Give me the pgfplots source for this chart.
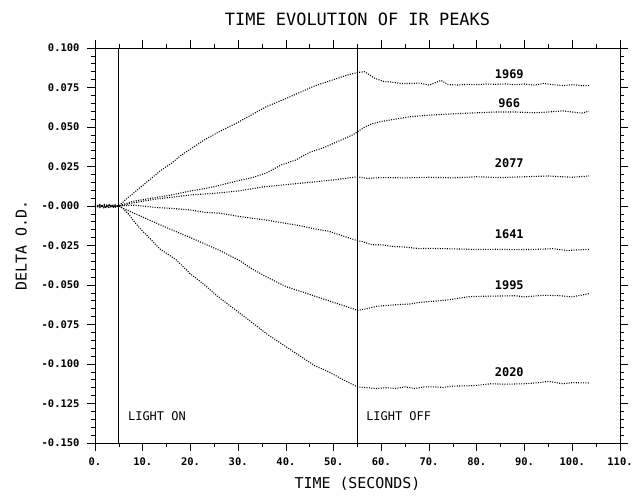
\documentclass[border=0pt]{standalone}
\usepackage{fontspec}
\setmainfont{DejaVu Sans Mono}
\usepackage{pgfplots}
\pgfplotsset{compat=1.18}
\usetikzlibrary{calc}
\begin{document}
\begin{tikzpicture}
\begin{axis}[
  scale only axis,
  width=525bp, height=395bp,
  xmin=0, xmax=110, ymin=-0.15, ymax=0.1,
  xtick={0,10,20,30,40,50,60,70,80,90,100,110},
  xticklabels={0.,10.,20.,30.,40.,50.,60.,70.,80.,90.,100.,110.},
  ytick={-0.15,-0.125,-0.1,-0.075,-0.05,-0.025,0,0.025,0.05,0.075,0.1},
  yticklabels={-0.150,-0.125,-0.100,-0.075,-0.050,-0.025,-0.000,0.025,0.050,0.075,0.100},
  minor x tick num=1, minor y tick num=4,
  tick align=outside,
  major tick length=8bp, minor tick length=4bp,
  tick style={black, line width=0.7pt},
  axis line style={line width=0.8pt},
  ticklabel style={font=\fontsize{10.5}{12}\selectfont\bfseries},
  xticklabel style={yshift=-3bp},
  yticklabel style={xshift=-4bp},
  title={TIME EVOLUTION OF IR PEAKS},
  title style={at={(0.5,1)}, anchor=south, inner sep=0pt, yshift=16bp, font=\fontsize{17}{20}\selectfont},
  xlabel={TIME (SECONDS)},
  xlabel style={at={(0.5,0)}, anchor=north, inner sep=0pt, yshift=-34bp, font=\fontsize{15}{18}\selectfont},
  ylabel={DELTA O.D.},
  ylabel style={font=\fontsize{15}{18}\selectfont, yshift=8bp},
  pk/.style={black, no markers, line width=1.1pt, dash pattern=on 1pt off 1.4pt},
]
% 1969
\addplot[pk] coordinates {(0,0.000) (1,-0.001) (2,0.0005) (3,-0.001) (4,0.0005) (5,0.000) (6.4,0.004) (8,0.008) (10,0.013) (12,0.018) (14,0.023) (16,0.027) (18,0.032) (20,0.036) (23,0.042) (26,0.047) (30,0.053) (33,0.058) (36,0.063) (40,0.068) (43,0.072) (46,0.076) (50,0.080) (53,0.083) (55,0.0845) (56.5,0.085) (58.5,0.081) (60.5,0.0788) (62,0.0785) (64,0.0775) (66,0.0775) (68,0.0778) (70,0.0765) (72.5,0.0795) (74,0.0768) (76,0.0766) (78,0.077) (80,0.0768) (82,0.0772) (84,0.077) (86,0.0772) (88,0.0768) (90,0.0772) (92,0.0765) (94,0.0775) (96,0.0768) (98,0.0762) (100,0.0768) (102,0.0762) (103.5,0.0762)};
% 966
\addplot[pk] coordinates {(0,0.000) (1,0.0005) (2,-0.0005) (3,0.001) (4,-0.0005) (5,0.000) (8,0.003) (10,0.004) (13,0.0055) (16,0.007) (20,0.0095) (23,0.011) (26,0.013) (30,0.016) (33,0.018) (36,0.021) (39,0.026) (42,0.029) (45,0.034) (48,0.037) (51,0.041) (54,0.045) (55,0.047) (56.5,0.050) (58,0.052) (60,0.0535) (62,0.0545) (64,0.0555) (66,0.0565) (68,0.057) (70,0.0575) (73,0.058) (76,0.0585) (80,0.059) (84,0.0595) (88,0.0595) (92,0.059) (95,0.0595) (98,0.0602) (100,0.0595) (102,0.0588) (103.5,0.060)};
% 2077
\addplot[pk] coordinates {(0,0.0005) (1,-0.0005) (2,0.001) (3,0.000) (4,-0.001) (5,0.000) (8,0.002) (10,0.003) (13,0.0045) (16,0.0055) (20,0.007) (25,0.008) (30,0.0095) (35,0.012) (40,0.0135) (45,0.015) (50,0.0165) (55,0.0185) (57,0.0175) (60,0.018) (65,0.0178) (70,0.0182) (75,0.0178) (80,0.0185) (85,0.018) (90,0.0185) (95,0.019) (100,0.0182) (103.5,0.019)};
% 1641
\addplot[pk] coordinates {(0,-0.0005) (1,0.001) (2,-0.001) (3,0.0005) (4,-0.0005) (5,0.000) (8,0.0005) (10,0.000) (13,-0.001) (16,-0.0015) (20,-0.0025) (23,-0.004) (26,-0.0045) (30,-0.0065) (33,-0.0078) (36,-0.009) (40,-0.011) (43,-0.0125) (46,-0.0145) (49,-0.016) (52,-0.019) (55,-0.022) (56,-0.0225) (58,-0.0245) (60,-0.0245) (62,-0.0255) (65,-0.026) (68,-0.027) (70,-0.0268) (73,-0.027) (76,-0.0272) (80,-0.0275) (84,-0.0274) (88,-0.0276) (92,-0.0275) (96,-0.027) (99,-0.0282) (101,-0.0278) (103.5,-0.0275)};
% 1995
\addplot[pk] coordinates {(0,0.001) (1,-0.0005) (2,0.000) (3,-0.001) (4,0.001) (5,0.000) (7,-0.003) (10,-0.007) (13,-0.011) (16,-0.015) (20,-0.020) (23,-0.024) (26,-0.028) (30,-0.034) (33,-0.040) (36,-0.045) (40,-0.051) (43,-0.054) (46,-0.057) (49,-0.060) (52,-0.063) (55,-0.066) (57,-0.065) (59,-0.0635) (61,-0.063) (63,-0.0625) (66,-0.062) (68,-0.061) (70,-0.0605) (73,-0.0598) (75,-0.059) (78,-0.0575) (80,-0.0572) (84,-0.057) (88,-0.0568) (90,-0.0575) (92,-0.057) (94,-0.0565) (97,-0.0567) (100,-0.0575) (103.5,-0.0555)};
% 2020
\addplot[pk] coordinates {(0,-0.001) (1,0.0005) (2,-0.0015) (3,0.0005) (4,0.000) (5,0.000) (6,-0.002) (7,-0.005) (8.5,-0.011) (10,-0.016) (12,-0.022) (13.5,-0.027) (15,-0.030) (17,-0.034) (20,-0.043) (23,-0.050) (26,-0.058) (30,-0.067) (33,-0.074) (36,-0.081) (40,-0.089) (43,-0.095) (46,-0.101) (49,-0.105) (52,-0.110) (55,-0.1145) (57,-0.115) (59,-0.1155) (61,-0.115) (63,-0.1155) (65,-0.1145) (67,-0.1155) (69,-0.1145) (71,-0.1145) (73,-0.1148) (75,-0.114) (78,-0.1138) (80,-0.1135) (83,-0.1125) (86,-0.1128) (90,-0.1125) (93,-0.1118) (95,-0.111) (98,-0.1125) (100,-0.1118) (103.5,-0.112)};
% light on / off lines
\addplot[black, no markers, solid, line width=0.8pt] coordinates {(5,-0.15) (5,0.1)};
\addplot[black, no markers, solid, line width=0.5pt] coordinates {(55,-0.15) (55,0.1)};
% labels
\begin{scope}[every node/.style={font=\fontsize{12}{14}\selectfont\bfseries, inner sep=0pt}]
\node at (axis cs:86.8,0.0836) {1969};
\node at (axis cs:86.8,0.065) {966};
\node at (axis cs:86.8,0.0274) {2077};
\node at (axis cs:86.8,-0.0177) {1641};
\node at (axis cs:86.8,-0.0504) {1995};
\node at (axis cs:86.8,-0.1049) {2020};
\end{scope}
\begin{scope}[every node/.style={font=\fontsize{12}{14}\selectfont, inner sep=0pt}]
\node[anchor=west] at (axis cs:6.9,-0.133) {LIGHT ON};
\node[anchor=west] at (axis cs:56.8,-0.133) {LIGHT OFF};
\end{scope}
\end{axis}
\pgfresetboundingbox
\path[use as bounding box] ($(current axis.south west)+(-95bp,-54bp)$) rectangle ($(current axis.north east)+(14bp,48bp)$);
\end{tikzpicture}
\end{document}
